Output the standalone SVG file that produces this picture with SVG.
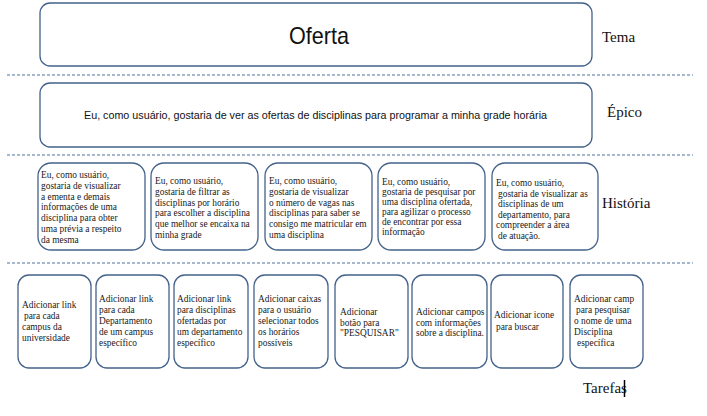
<svg xmlns="http://www.w3.org/2000/svg" width="707" height="416" viewBox="0 0 707 416">
<style>
.box{fill:#fff;stroke:#44628a;stroke-width:1.3}
.sep{stroke:#4f739c;stroke-width:1.2;stroke-dasharray:3 2;fill:none}
.s{font-family:"Liberation Serif",serif;font-size:9.4px;fill:#1a1a1a}
.t{font-family:"Liberation Serif",serif;font-size:9.4px;fill:#1a1a1a}
.lbl{font-family:"Liberation Serif",serif;font-size:15px;fill:#111}
.n{font-family:"Liberation Sans Narrow","Liberation Sans",sans-serif;fill:#111}
</style>
<rect width="707" height="416" fill="#fff"/>
<g id="separators">
<line class="sep" x1="7" y1="75" x2="693" y2="75"/>
<line class="sep" x1="7" y1="155" x2="693" y2="155"/>
<line class="sep" x1="7" y1="263" x2="693" y2="263"/>
</g>
<g id="labels">
<text class="lbl" x="602" y="42">Tema</text>
<text class="lbl" x="607" y="117">Épico</text>
<text class="lbl" x="602" y="208">História</text>
<text class="lbl" x="583" y="393">Tarefas</text>
<line x1="624.5" y1="380" x2="624.5" y2="397" stroke="#000" stroke-width="1.5"/>
</g>
<g id="tema">
<rect class="box" x="40" y="3" width="552" height="63" rx="10"/>
<text class="n" x="289" y="44" font-size="24" textLength="60" lengthAdjust="spacingAndGlyphs">Oferta</text>
</g>
<g id="epico">
<rect class="box" x="40" y="83" width="552" height="64" rx="10"/>
<text class="n" x="84" y="119" font-size="11" textLength="463" lengthAdjust="spacingAndGlyphs">Eu, como usuário, gostaria de ver as ofertas de disciplinas para programar a minha grade horária</text>
</g>
<g id="historia1">
<rect class="box" x="38" y="163" width="107" height="87" rx="13"/>
<text class="s" x="41" y="178"><tspan x="41">Eu, como usuário,</tspan><tspan x="41" dy="10.8">gostaria de visualizar</tspan><tspan x="41" dy="10.8">a ementa e demais</tspan><tspan x="41" dy="10.8">informações de uma</tspan><tspan x="41" dy="10.8">disciplina para obter</tspan><tspan x="41" dy="10.8">uma prévia a respeito</tspan><tspan x="41" dy="10.8">da mesma</tspan></text>
</g>
<g id="historia2">
<rect class="box" x="151" y="163" width="107" height="87" rx="13"/>
<text class="s" x="155" y="184"><tspan x="155">Eu, como usuário,</tspan><tspan x="155" dy="10.8">gostaria de filtrar as</tspan><tspan x="155" dy="10.8">disciplinas por horário</tspan><tspan x="155" dy="10.8">para escolher a disciplina</tspan><tspan x="155" dy="10.8">que melhor se encaixa na</tspan><tspan x="155" dy="10.8">minha grade</tspan></text>
</g>
<g id="historia3">
<rect class="box" x="265" y="163" width="107" height="87" rx="13"/>
<text class="s" x="269" y="184"><tspan x="269">Eu, como usuário,</tspan><tspan x="269" dy="10.8">gostaria de visualizar</tspan><tspan x="269" dy="10.8">o número de vagas nas</tspan><tspan x="269" dy="10.8">disciplinas para saber se</tspan><tspan x="269" dy="10.8">consigo me matricular em</tspan><tspan x="269" dy="10.8">uma disciplina</tspan></text>
</g>
<g id="historia4">
<rect class="box" x="378" y="163" width="107" height="87" rx="13"/>
<text class="s" x="382" y="185"><tspan x="382">Eu, como usuário,</tspan><tspan x="382" dy="10">gostaria de pesquisar por</tspan><tspan x="382" dy="10">uma disciplina ofertada,</tspan><tspan x="382" dy="10">para agilizar o processo</tspan><tspan x="382" dy="10">de encontrar por essa</tspan><tspan x="382" dy="10">informação</tspan></text>
</g>
<g id="historia5">
<rect class="box" x="492" y="163" width="106" height="87" rx="13"/>
<text class="s" x="496" y="186"><tspan x="496">Eu, como usuário,</tspan><tspan x="498" dy="10.6">gostaria de visualizar as</tspan><tspan x="498" dy="10.6">disciplinas de um</tspan><tspan x="498" dy="10.6">departamento, para</tspan><tspan x="496" dy="10.6">compreender a área</tspan><tspan x="498" dy="10.6">de atuação.</tspan></text>
</g>
<g id="tarefa1">
<rect class="box" x="18" y="275" width="73" height="93" rx="11"/>
<text class="t" x="22" y="308"><tspan x="22">Adicionar link</tspan><tspan x="24" dy="11">para cada</tspan><tspan x="22" dy="11">campus da</tspan><tspan x="22" dy="11">universidade</tspan></text>
</g>
<g id="tarefa2">
<rect class="box" x="96" y="275" width="73" height="93" rx="11"/>
<text class="t" x="99" y="302"><tspan x="99">Adicionar link</tspan><tspan x="99" dy="11">para cada</tspan><tspan x="99" dy="11">Departamento</tspan><tspan x="99" dy="11">de um campus</tspan><tspan x="99" dy="11">específico</tspan></text>
</g>
<g id="tarefa3">
<rect class="box" x="174" y="275" width="74" height="93" rx="11"/>
<text class="t" x="177" y="302"><tspan x="177">Adicionar link</tspan><tspan x="177" dy="11">para disciplinas</tspan><tspan x="177" dy="11">ofertadas por</tspan><tspan x="177" dy="11">um departamento</tspan><tspan x="177" dy="11">específico</tspan></text>
</g>
<g id="tarefa4">
<rect class="box" x="254" y="275" width="74" height="93" rx="11"/>
<text class="t" x="258" y="302"><tspan x="258">Adicionar caixas</tspan><tspan x="258" dy="11">para o usuário</tspan><tspan x="258" dy="11">selecionar todos</tspan><tspan x="258" dy="11">os horários</tspan><tspan x="258" dy="11">possíveis</tspan></text>
</g>
<g id="tarefa5">
<rect class="box" x="335" y="275" width="73" height="93" rx="11"/>
<text class="t" x="340" y="315"><tspan x="340">Adicionar</tspan><tspan x="340" dy="10.5">botão para</tspan><tspan x="340" dy="10.5">"PESQUISAR"</tspan></text>
</g>
<g id="tarefa6">
<rect class="box" x="412" y="275" width="75" height="93" rx="11"/>
<text class="t" x="416" y="315"><tspan x="416">Adicionar campos</tspan><tspan x="416" dy="10.5">com informações</tspan><tspan x="416" dy="10.5">sobre a disciplina.</tspan></text>
</g>
<g id="tarefa7">
<rect class="box" x="491" y="275" width="72" height="93" rx="11"/>
<text class="t" x="494" y="318"><tspan x="494">Adicionar icone</tspan><tspan x="496" dy="12">para buscar</tspan></text>
</g>
<g id="tarefa8">
<rect class="box" x="570" y="275" width="73" height="93" rx="11"/>
<text class="t" x="574" y="302"><tspan x="574">Adicionar camp</tspan><tspan x="576" dy="11">para pesquisar</tspan><tspan x="574" dy="11">o nome de uma</tspan><tspan x="574" dy="11">Disciplina</tspan><tspan x="577" dy="11">específica</tspan></text>
</g>
</svg>
